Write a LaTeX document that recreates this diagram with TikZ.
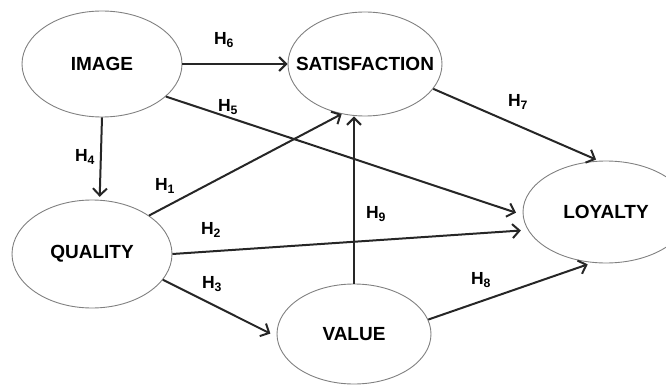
\documentclass[tikz,border=0pt]{standalone}
\usepackage{fontspec}
\setmainfont{Liberation Sans}
\usetikzlibrary{shapes.geometric,arrows.meta}

% keep the ellipse at its own size, not the text's
\newcommand{\ctext}[1]{\makebox[0pt]{#1}}

\begin{document}
\begin{tikzpicture}[x=1pt,y=1pt,
    construct/.style={ellipse,draw=gray,line width=0.9pt,inner sep=0pt,
      font=\bfseries\fontsize{19}{20}\selectfont},
    path/.style={line width=2pt,black!85,-{Straight Barb[length=7pt,width=14pt]}},
    hyp/.style={inner sep=0pt,font=\bfseries\fontsize{17.5}{18}\selectfont}]

    \useasboundingbox (0,0) rectangle (666,-385);

    % Constructs
    \node[construct,minimum width=160pt,minimum height=106pt] (img) at (102,-64) {\ctext{IMAGE}};
    \node[construct,minimum width=154pt,minimum height=104pt] (sat) at (365,-64) {\ctext{SATISFACTION}};
    \node[construct,minimum width=166pt,minimum height=102pt] (loy) at (606,-212) {\ctext{LOYALTY}};
    \node[construct,minimum width=160pt,minimum height=108pt] (qual) at (92,-254) {\ctext{QUALITY}};
    \node[construct,minimum width=154pt,minimum height=100pt] (val) at (354,-334) {\ctext{VALUE}};

    % Hypothesised paths
    \draw[path] (img.east) -- (sat.west);
    \draw[path,shorten >=7pt] (img.-27) -- (loy.182);
    \draw[path,shorten >=3pt] (img.south) -- (qual.82);
    \draw[path] (qual.34) -- (sat.245);
    \draw[path,shorten >=7pt] (qual.east) -- (loy.193);
    \draw[path,shorten >=7pt] (qual.-20) -- (val.182);
    \draw[path,shorten >=3pt] (sat.-20) -- (loy.98);
    \draw[path,shorten >=5pt] (val.11) -- (loy.255);
    \draw[path] (val.north) -- (val.north |- sat.south);

    % Labels H1..H9
    \foreach \n/\x/\y in {1/165/186,2/211/230,3/212/284,4/85/157,5/228/107,
                          6/224/40,7/518/102,8/481/280,9/376/214} {
      \node[hyp] (h\n) at (\x,-\y) {H\textsubscript{\n}};
    }

  \end{tikzpicture}
\end{document}
